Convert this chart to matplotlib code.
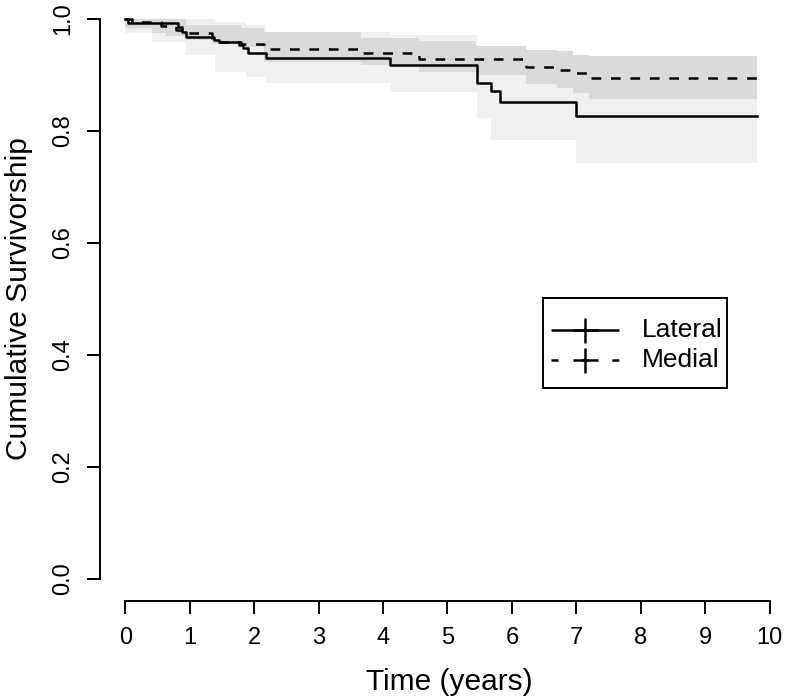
import matplotlib
matplotlib.use("Agg")
import matplotlib.pyplot as plt
from matplotlib.lines import Line2D
from matplotlib.patches import Rectangle

# ---------------- data ----------------
lat_t = [0, 0.05, 0.82, 0.88, 0.95, 1.38, 1.45, 1.77, 1.83, 1.90, 2.18, 4.11, 5.46, 5.67, 5.82, 7.00]
lat_s = [1.0, 0.992, 0.985, 0.977, 0.967, 0.9625, 0.958, 0.954, 0.949, 0.940, 0.930, 0.918, 0.885, 0.872, 0.852, 0.827]

med_t = [0, 0.10, 0.55, 0.79, 0.95, 1.35, 1.80, 2.15, 3.66, 4.56, 6.22, 6.70, 6.95, 7.20]
med_s = [1.0, 0.995, 0.988, 0.980, 0.975, 0.959, 0.955, 0.946, 0.939, 0.929, 0.915, 0.908, 0.903, 0.894]

t_end = 9.8

lat_ci_t = [0, 0.42, 0.94, 1.40, 1.87, 2.18, 4.11, 5.46, 5.67, 5.82, 7.00]
lat_lo   = [0.975, 0.958, 0.936, 0.906, 0.897, 0.885, 0.870, 0.823, 0.784, 0.784, 0.743]
lat_hi   = [1.0, 1.0, 1.0, 0.995, 0.990, 0.977, 0.971, 0.948, 0.942, 0.935, 0.925]

med_ci_t = [0, 0.42, 0.63, 0.94, 1.35, 1.80, 2.15, 3.66, 4.56, 5.44, 6.22, 6.70, 6.95, 7.20]
med_hi   = [1.0, 1.0, 1.0, 0.990, 0.990, 0.984, 0.977, 0.966, 0.960, 0.951, 0.945, 0.942, 0.936, 0.933]
med_lo   = [0.984, 0.975, 0.969, 0.962, 0.955, 0.950, 0.924, 0.918, 0.906, 0.900, 0.884, 0.876, 0.868, 0.857]

x_ticks = [0, 1, 2, 3, 4, 5, 6, 7, 8, 9, 10]
y_ticks = [0.0, 0.2, 0.4, 0.6, 0.8, 1.0]
y_ticklabels = ["0.0", "0.2", "0.4", "0.6", "0.8", "1.0"]
series_names = ["Lateral", "Medial"]
series_dashes = [None, (5.0, 16.9)]

# ---------------- style ----------------
FAM = ["Liberation Sans Narrow", "Nimbus Sans Narrow", "Liberation Sans", "DejaVu Sans"]
plt.rcParams["font.family"] = FAM
plt.rcParams["lines.scale_dashes"] = False
FS = 17

W, H = 786, 698
fig = plt.figure(figsize=(W / 100, H / 100), dpi=100)
left_px, right_px = 100, 782
bot_px, top_px = 601, -3.4
ax = fig.add_axes([left_px / W, (H - bot_px) / H, (right_px - left_px) / W, (bot_px - top_px) / H])
ax.set_xlim(-0.392, 10.192)
ax.set_ylim(-0.04, 1.04)

def ext(t, v):
    return list(t) + [t_end], list(v) + [v[-1]]

# confidence bands
tt, lo = ext(lat_ci_t, lat_lo)
_, hi = ext(lat_ci_t, lat_hi)
ax.fill_between(tt, lo, hi, step="post", color="#f0f0f0", lw=0, zorder=1)
tt, lo = ext(med_ci_t, med_lo)
_, hi = ext(med_ci_t, med_hi)
ax.fill_between(tt, lo, hi, step="post", color="#dadada", lw=0, zorder=2)

# survival curves
tt, ss = ext(lat_t, lat_s)
ax.step(tt, ss, where="post", color="black", lw=1.8, zorder=3)
tt, ss = ext(med_t, med_s)
ax.step(tt, ss, where="post", color="black", lw=1.8, dashes=(7, 7), zorder=3)

# axes
for s in ["top", "right"]:
    ax.spines[s].set_visible(False)
ax.spines["left"].set_bounds(0, 1)
ax.spines["bottom"].set_bounds(0, 10)
ax.spines["left"].set_linewidth(1.4)
ax.spines["bottom"].set_linewidth(1.4)
ax.set_xticks(x_ticks)
ax.set_xticklabels([str(v) for v in x_ticks], fontsize=FS)
ax.set_yticks(y_ticks)
ax.set_yticklabels(y_ticklabels, fontsize=FS, rotation=90, va="center")
ax.tick_params(length=9.4, width=1.4, pad=9, direction="out")

fig.text(449 / W, 1 - 682 / H, "Time (years)", ha="center", va="center", fontsize=21.5)
fig.text(19 / W, 1 - 299 / H, "Cumulative Survivorship", ha="center", va="center",
         rotation=90, fontsize=21.5)

# legend drawn in figure pixel positions
def fx(px):
    return px / W

def fy(py):
    return 1 - py / H

fig.patches.append(Rectangle((fx(543), fy(388)), fx(727) - fx(543), fy(298) - fy(388),
                             transform=fig.transFigure, fill=True, facecolor="white",
                             edgecolor="black", lw=1.4, zorder=5))
for name, dsh, ypx in zip(series_names, series_dashes, [330, 360]):
    ln = Line2D([fx(551), fx(619)], [fy(ypx), fy(ypx)], transform=fig.transFigure,
                color="black", lw=1.8, zorder=6, solid_capstyle="butt", dash_capstyle="butt")
    if dsh is not None:
        ln.set_dashes(dsh)
    fig.lines.append(ln)
    fig.lines.append(Line2D([fx(585)], [fy(ypx)], transform=fig.transFigure, color="black",
                            marker="+", markersize=18, markeredgewidth=1.8, ls="none", zorder=6))
    fig.text(fx(642), fy(ypx), name, ha="left", va="center", fontsize=19, zorder=7)

fig.savefig("out.png", dpi=100)
